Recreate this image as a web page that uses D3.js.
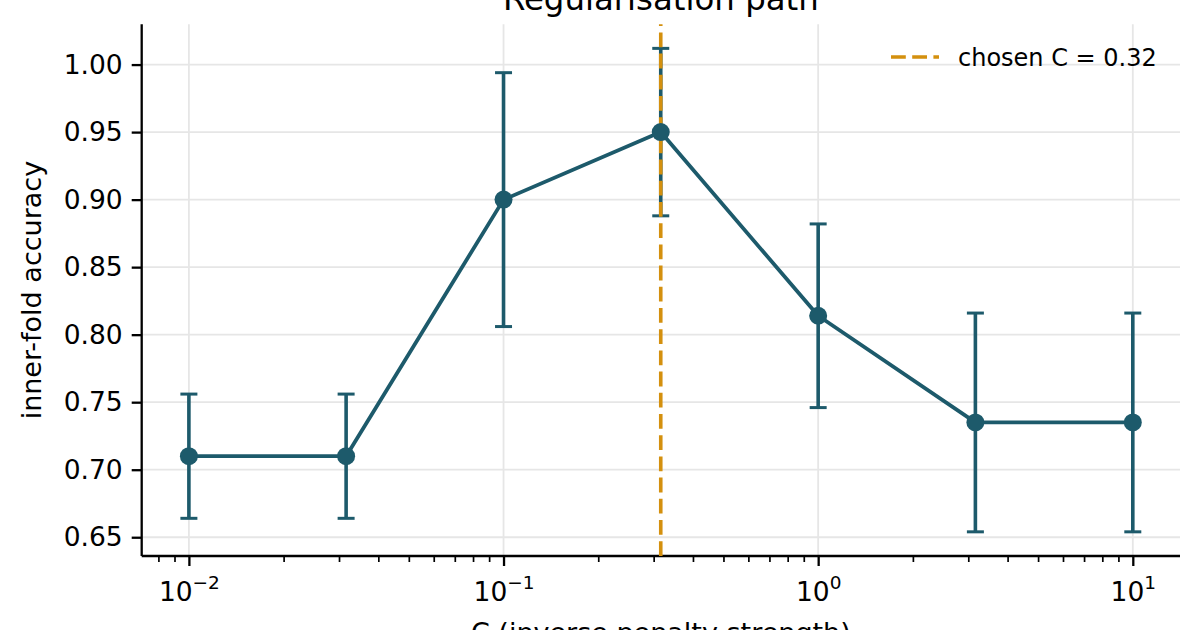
<!DOCTYPE html>
<html>
<head>
<meta charset="utf-8">
<script src="https://cdn.jsdelivr.net/npm/d3@7"></script>
<style>
  body { margin: 0; background: #fff; }
  svg, svg text { font-family: "DejaVu Sans", sans-serif; }
</style>
</head>
<body>
<script>
// data
var cValues = [0.01, 0.0316, 0.1, 0.316, 1, 3.16, 10];
var accMean = [0.710, 0.710, 0.900, 0.950, 0.814, 0.735, 0.735];
var accErr  = [0.046, 0.046, 0.094, 0.062, 0.068, 0.081, 0.081];
var yTicks = [0.65, 0.70, 0.75, 0.80, 0.85, 0.90, 0.95, 1.00];
var xTicks = [0.01, 0.1, 1, 10];
var xTickExp = ["\u22122", "\u22121", "0", "1"];
var chosenC = 0.316;
var chosenLabel = "chosen C = 0.32";

var lineColor = "#1d5a6b";
var chosenColor = "#d4900e";

var svg = d3.select("body")
    .append("svg")
    .attr("width", 1200)
    .attr("height", 630)
    .style("display", "block");

var margin = {top: 24.2, right: 20, bottom: 74, left: 141.7};
var width = 1200 - margin.left - margin.right;
var height = 630 - margin.top - margin.bottom;
var g = svg.append("g").attr("transform", "translate(" + margin.left + "," + margin.top + ")");

var points = cValues.map(function(c, i) {
    return {c: c, m: accMean[i], e: accErr[i]};
});

// matplotlib-like 5% margins
var lx0 = Math.log10(d3.min(cValues)), lx1 = Math.log10(d3.max(cValues));
var padX = 0.05 * (lx1 - lx0);
var x = d3.scaleLog()
    .domain([Math.pow(10, lx0 - padX), Math.pow(10, lx1 + padX)])
    .range([0, width]);

var y0 = d3.min(points, function(d) { return d.m - d.e; });
var y1 = d3.max(points, function(d) { return d.m + d.e; });
var padY = 0.05 * (y1 - y0);
var y = d3.scaleLinear()
    .domain([y0 - padY, y1 + padY])
    .range([height, 0]);

// grid
g.append("g").selectAll("line")
    .data(xTicks)
    .enter().append("line")
    .attr("x1", function(d) { return x(d); })
    .attr("x2", function(d) { return x(d); })
    .attr("y1", 0).attr("y2", height)
    .attr("stroke", "#e6e6e6").attr("stroke-width", 1.8);
g.append("g").selectAll("line")
    .data(yTicks)
    .enter().append("line")
    .attr("x1", 0).attr("x2", width)
    .attr("y1", function(d) { return y(d); })
    .attr("y2", function(d) { return y(d); })
    .attr("stroke", "#e6e6e6").attr("stroke-width", 1.8);

// axes
var minorTicks = x.ticks().filter(function(v) {
    var l = Math.log10(v);
    return Math.abs(l - Math.round(l)) > 1e-6;
});

var xMinor = d3.axisBottom(x).tickValues(minorTicks).tickSize(6).tickFormat("");
var xAxis = d3.axisBottom(x).tickValues(xTicks).tickSize(10).tickPadding(7).tickFormat("");
var yAxis = d3.axisLeft(y).tickValues(yTicks).tickSize(10).tickPadding(9).tickFormat(d3.format(".2f"));

var gxm = g.append("g")
    .attr("transform", "translate(0," + height + ")")
    .call(xMinor);
gxm.select(".domain").remove();
gxm.selectAll(".tick line").attr("stroke", "#000").attr("stroke-width", 1.7);

var gx = g.append("g")
    .attr("transform", "translate(0," + height + ")")
    .call(xAxis)
    .attr("font-family", "DejaVu Sans")
    .attr("font-size", null);
gx.select(".domain").attr("stroke", "#000").attr("stroke-width", 2.3)
    .attr("d", "M0,0H" + width);
gx.selectAll(".tick line").attr("stroke", "#000").attr("stroke-width", 2.3);
gx.selectAll(".tick text")
    .attr("y", 45)
    .attr("dy", null)
    .style("font-size", "26.5px")
    .attr("fill", "#000")
    .each(function(d, i) {
        var t = d3.select(this);
        t.append("tspan").text("10");
        t.append("tspan")
            .attr("dy", -12)
            .style("font-size", "18.5px")
            .text(xTickExp[i]);
    });

var gy = g.append("g").call(yAxis)
    .attr("font-family", "DejaVu Sans")
    .attr("font-size", null);
gy.select(".domain").attr("stroke", "#000").attr("stroke-width", 2.3)
    .attr("d", "M0," + height + "V0");
gy.selectAll(".tick line").attr("stroke", "#000").attr("stroke-width", 2.3);
gy.selectAll(".tick text")
    .style("font-size", "26.5px")
    .attr("fill", "#000");

// error bars
var eb = g.append("g");
eb.selectAll(".ebar")
    .data(points)
    .enter().append("line")
    .attr("x1", function(d) { return x(d.c); })
    .attr("x2", function(d) { return x(d.c); })
    .attr("y1", function(d) { return y(d.m - d.e); })
    .attr("y2", function(d) { return y(d.m + d.e); })
    .attr("stroke", lineColor).attr("stroke-width", 3.6);
[-1, 1].forEach(function(s) {
    eb.selectAll(".cap" + s)
        .data(points)
        .enter().append("line")
        .attr("x1", function(d) { return x(d.c) - 8.5; })
        .attr("x2", function(d) { return x(d.c) + 8.5; })
        .attr("y1", function(d) { return y(d.m + s * d.e); })
        .attr("y2", function(d) { return y(d.m + s * d.e); })
        .attr("stroke", lineColor).attr("stroke-width", 3);
});

// chosen C
g.append("line")
    .attr("x1", x(chosenC)).attr("x2", x(chosenC))
    .attr("y1", height).attr("y2", 0)
    .attr("stroke", chosenColor)
    .attr("stroke-width", 3.6)
    .attr("stroke-dasharray", "14.8,6.4");

// path + markers
var line = d3.line()
    .x(function(d) { return x(d.c); })
    .y(function(d) { return y(d.m); });

g.append("path")
    .datum(points)
    .attr("d", line)
    .attr("fill", "none")
    .attr("stroke", lineColor)
    .attr("stroke-width", 3.8)
    .attr("stroke-linejoin", "round");

g.selectAll(".dot")
    .data(points)
    .enter().append("circle")
    .attr("cx", function(d) { return x(d.c); })
    .attr("cy", function(d) { return y(d.m); })
    .attr("r", 9)
    .attr("fill", lineColor);

// legend
var lg = svg.append("g").attr("transform", "translate(891,57)");
lg.append("line")
    .attr("x1", 0).attr("x2", 48)
    .attr("y1", 0).attr("y2", 0)
    .attr("stroke", chosenColor)
    .attr("stroke-width", 3.6)
    .attr("stroke-dasharray", "14.8,6.4");
lg.append("text")
    .attr("x", 67)
    .attr("y", 8.5)
    .style("font-size", "24px")
    .text(chosenLabel);

// titles (cut at the frame edges, as in the reference)
svg.append("text")
    .attr("x", margin.left + width / 2)
    .attr("y", 10)
    .attr("text-anchor", "middle")
    .style("font-size", "32.4px")
    .text("Regularisation path");

svg.append("text")
    .attr("x", margin.left + width / 2)
    .attr("y", 642)
    .attr("text-anchor", "middle")
    .style("font-size", "27px")
    .text("C  (inverse penalty strength)");

svg.append("text")
    .attr("transform", "translate(41," + (margin.top + height / 2) + ") rotate(-90)")
    .attr("text-anchor", "middle")
    .style("font-size", "27px")
    .text("inner-fold accuracy");
</script>
</body>
</html>
